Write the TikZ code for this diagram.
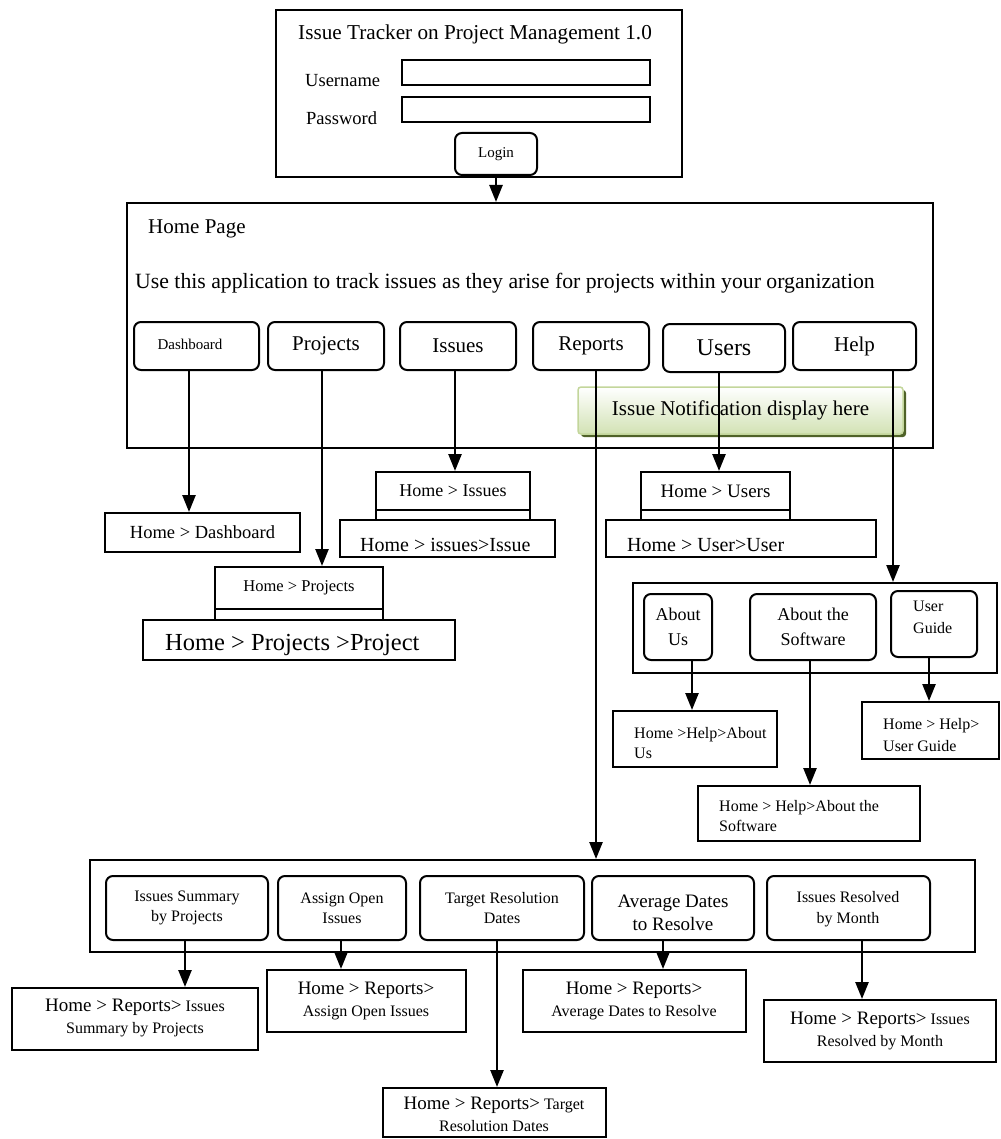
\documentclass[tikz,border=0pt]{standalone}
\usepackage{fontspec}
\setmainfont{Liberation Serif}
\usetikzlibrary{arrows.meta,calc,shadows}
\definecolor{noteline}{HTML}{C3D69B}
\definecolor{notefill}{HTML}{D2E2B4}
\definecolor{noteshade}{HTML}{4F6228}
\newcommand{\fsz}[2]{\fontsize{#1}{#2}\selectfont}
% \place{style}{name}{x1}{y1}{x2}{y2}{text}: a box given by its corners
\newcommand{\place}[7]{%
  \node[#1, minimum width={(#5-#3)*1pt}, minimum height={(#6-#4)*1pt}]
    (#2) at ({(#3+#5)/2},{(#4+#6)/2}) {#7};}
\begin{document}
\begin{tikzpicture}[x=1pt,y=-1pt,
  bx/.style={draw, line width=2pt, inner sep=0pt},
  btn/.style={draw, line width=2pt, rounded corners=7pt, inner sep=0pt, align=center},
  note/.style={draw=noteline, line width=1.5pt, rounded corners=3pt, inner sep=0pt,
    top color=white, bottom color=notefill,
    drop shadow={shadow xshift=3pt, shadow yshift=-3pt, fill=noteshade, opacity=1}},
  arr/.style={line width=2.5pt, -{Triangle[length=17pt,width=13pt]}},
  lbl/.style={inner sep=0pt, anchor=west, align=left},
  ctr/.style={inner sep=0pt, align=center},
]
\useasboundingbox (0,0) rectangle (1000,1139);

% ---------- login form ----------
\place{bx}{loginbox}{276}{10}{682}{177}{}
\node[lbl, font=\fsz{21.2}{25}] (title) at (298,34) {Issue Tracker on Project Management 1.0};
\node[lbl, font=\fsz{18.5}{22}] (uname) at (305,81) {Username};
\node[lbl, font=\fsz{18.5}{22}] (pword) at (306,118) {Password};
\place{bx}{ufield}{402}{60}{650}{85}{}
\place{bx}{pfield}{402}{97}{650}{122}{}
\place{btn, font=\fsz{15}{18}}{login}{455}{133}{537}{175}{Login}

% ---------- home page ----------
\place{bx}{home}{127}{203}{933}{448}{}
\node[lbl, font=\fsz{21}{25}] (hometitle) at (148,229) {Home Page};
\node[lbl, font=\fsz{21.75}{25}] (homeintro) at (135,283)
  {Use this application to track issues as they arise for projects within your organization};
\place{btn}{dash}{134}{322}{259}{370}{}
\node[ctr, font=\fsz{15}{18}] (dashtext) at (190,344) {Dashboard};
\place{btn, font=\fsz{21}{25}}{proj}{268}{322}{384}{370}{Projects}
\place{btn, font=\fsz{21}{25}}{iss}{400}{322}{516}{370}{Issues}
\place{btn, font=\fsz{21}{25}}{rep}{533}{322}{649}{370}{Reports}
\place{btn, font=\fsz{24}{28}}{users}{663}{324}{785}{372}{Users}
\place{btn, font=\fsz{21}{25}}{help}{793}{322}{916}{370}{Help}
\place{note, font=\fsz{21}{25}}{notify}{578}{387}{903}{434}{Issue Notification display here}

% ---------- first-level pages ----------
\place{bx, font=\fsz{18.5}{22}}{hdash}{105}{513}{300}{552}{Home > Dashboard}

\place{bx, font=\fsz{16.5}{20}}{hproj}{215}{567}{383}{609}{Home > Projects}
\place{bx}{hprojstrip}{215}{609}{383}{620}{}
\place{bx}{hprojitem}{143}{620}{455}{660}{}
\node[lbl, font=\fsz{24.5}{28}] (hprojtext) at (165,645) {Home > Projects >Project};

\place{bx, font=\fsz{18}{22}}{hiss}{376}{472}{530}{510}{Home > Issues}
\place{bx}{hissstrip}{376}{510}{530}{520}{}
\place{bx}{hissitem}{340}{520}{555}{557}{}
\node[lbl, font=\fsz{20}{24}] (hisstext) at (360,545) {Home > issues>Issue};

\place{bx, font=\fsz{19}{22}}{husr}{641}{472}{790}{510}{Home > Users}
\place{bx}{husrstrip}{641}{510}{790}{520}{}
\place{bx}{husritem}{606}{520}{876}{557}{}
\node[lbl, font=\fsz{20}{24}] (husrtext) at (627,545) {Home > User>User};

% ---------- help pages ----------
\place{bx}{helpgrp}{633}{583}{997}{673}{}
\place{btn, font=\fsz{18}{25}}{abus}{644}{594}{712}{660}{About\\Us}
\place{btn, font=\fsz{18}{25}}{absw}{750}{594}{876}{660}{About the\\Software}
\place{btn}{guide}{891}{591}{977}{657}{}
\node[lbl, font=\fsz{16}{22}] (guidetext) at (913,617) {User\\Guide};

\place{bx}{habus}{613}{711}{777}{767}{}
\node[lbl, font=\fsz{16}{20}] (habustext) at (634,743) {Home >Help>About\\Us};
\place{bx}{habsw}{698}{786}{920}{841}{}
\node[lbl, font=\fsz{16}{20}] (habswtext) at (719,816) {Home > Help>About the\\Software};
\place{bx}{hguide}{862}{702}{999}{759}{}
\node[lbl, font=\fsz{16}{22}] (hguidetext) at (883,735) {Home > Help>\\User Guide};

% ---------- reports ----------
\place{bx}{repgrp}{90}{860}{975}{952}{}
\place{btn}{r1}{106}{876}{268}{940}{}
\node[ctr, font=\fsz{16}{20}] (r1text) at (187,908) {Issues Summary\\by Projects};
\place{btn}{r2}{278}{876}{406}{940}{}
\node[ctr, font=\fsz{16}{20}] (r2text) at (342,908) {Assign Open\\Issues};
\place{btn}{r3}{420}{876}{584}{940}{}
\node[ctr, font=\fsz{16}{20}] (r3text) at (502,908) {Target Resolution\\Dates};
\place{btn}{r4}{592}{876}{754}{940}{}
\node[ctr, font=\fsz{19}{23}] (r4text) at (673,913) {Average Dates\\to Resolve};
\place{btn}{r5}{767}{876}{930}{940}{}
\node[ctr, font=\fsz{16}{21}] (r5text) at (848,909) {Issues Resolved\\by Month};

\place{bx}{hr1}{12}{988}{258}{1050}{}
\node[ctr, font=\fsz{16}{22}] (hr1text) at (135,1018)
  {{\fsz{19}{22}Home > Reports>} Issues\\Summary by Projects};
\place{bx}{hr2}{267}{970}{466}{1032}{}
\node[ctr, font=\fsz{16}{22}] (hr2text) at (366,1001)
  {{\fsz{19}{22}Home > Reports>}\\Assign Open Issues};
\place{bx}{hr3}{383}{1088}{606}{1137}{}
\node[ctr, font=\fsz{16}{22}] (hr3text) at (494,1114)
  {{\fsz{19}{22}Home > Reports>} Target\\Resolution Dates};
\place{bx}{hr4}{523}{970}{746}{1032}{}
\node[ctr, font=\fsz{16}{22}] (hr4text) at (634,1001)
  {{\fsz{19}{22}Home > Reports>}\\Average Dates to Resolve};
\place{bx}{hr5}{764}{1000}{996}{1062}{}
\node[ctr, font=\fsz{16}{22}] (hr5text) at (880,1031)
  {{\fsz{19}{22}Home > Reports>} Issues\\Resolved by Month};

% ---------- connectors ----------
\coordinate (xdash) at (189,0);
\coordinate (xproj) at (322,0);
\coordinate (xiss) at (455,0);
\coordinate (xrep) at (596,0);
\coordinate (xusr) at (719,0);
\coordinate (xhelp) at (893,0);
\coordinate (xabus) at (692,0);
\coordinate (xabsw) at (810,0);
\coordinate (xguide) at (929,0);
\coordinate (xr1) at (185,0);
\coordinate (xr2) at (341,0);
\coordinate (xr3) at (497,0);
\coordinate (xr4) at (663,0);
\coordinate (xr5) at (862,0);

\draw[arr] (login.south) -- (login.south |- home.north);
\draw[arr] (dash.south -| xdash) -- (xdash |- hdash.north);
\draw[arr] (proj.south -| xproj) -- (xproj |- hproj.north);
\draw[arr] (iss.south -| xiss) -- (xiss |- hiss.north);
\draw[arr] (rep.south -| xrep) -- (xrep |- repgrp.north);
\draw[arr] (users.south -| xusr) -- (xusr |- husr.north);
\draw[arr] (help.south -| xhelp) -- (xhelp |- helpgrp.north);
\draw[arr] (abus.south -| xabus) -- (xabus |- habus.north);
\draw[arr] (absw.south -| xabsw) -- (xabsw |- habsw.north);
\draw[arr] (guide.south -| xguide) -- (xguide |- hguide.north);
\draw[arr] (r1.south -| xr1) -- (xr1 |- hr1.north);
\draw[arr] (r2.south -| xr2) -- (xr2 |- hr2.north);
\draw[arr] (r3.south -| xr3) -- (xr3 |- hr3.north);
\draw[arr] (r4.south -| xr4) -- (xr4 |- hr4.north);
\draw[arr] (r5.south -| xr5) -- (xr5 |- hr5.north);
\end{tikzpicture}
\end{document}
